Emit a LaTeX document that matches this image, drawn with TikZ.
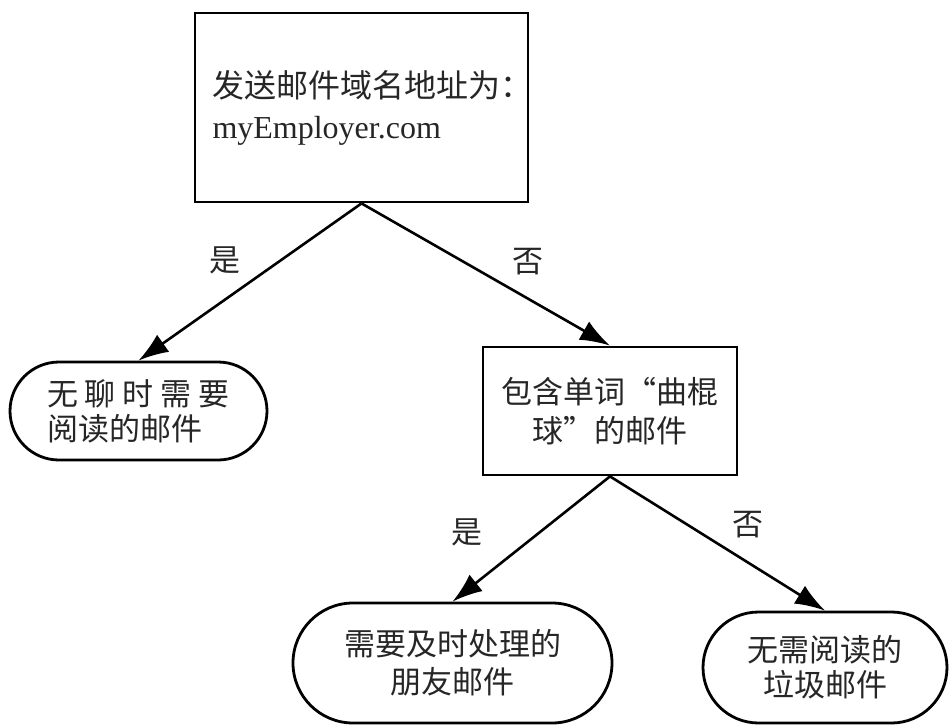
\documentclass[tikz,border=0pt]{standalone}
\usepackage{fontspec}
\setmainfont{Liberation Serif}
\newfontfamily\cjk{Noto Sans CJK SC}
\usetikzlibrary{arrows.meta,shapes.misc}

\tikzset{
  test/.style={draw, line width=2.8pt, rectangle, inner sep=0pt},
  leaf/.style={draw, line width=2.8pt, rounded rectangle, inner sep=0pt, align=center},
  branch/.style={line width=2.6pt, -{Latex[length=30pt,width=21pt]}},
  answer/.style={font=\cjk\fontsize{31}{35}\selectfont},
}

\begin{document}
\begin{tikzpicture}[x=1pt,y=-1pt,every node/.style={text=black!85}]
\useasboundingbox (0,0) rectangle (950,726);

%tests
\node[test, minimum width=333pt, minimum height=189pt, align=left,
  font=\fontsize{32}{41}\selectfont] (domain) at (361.5,107.5)
  {\makebox[298pt][l]{\cjk 发送邮件域名地址为：}\\myEmployer.com};
\node[test, minimum width=254pt, minimum height=128pt, align=center,
  font=\cjk\fontsize{31}{39}\selectfont] (hockey) at (610,411)
  {包含单词“曲棍\\球”的邮件};

%leaves
\node[leaf, minimum width=257pt, minimum height=98pt, align=left,
  font=\cjk\fontsize{31}{35}\selectfont] (bored) at (138.5,411)
  {无\kern7pt 聊\kern7pt 时\kern7pt 需\kern7pt 要\\阅读的邮件};
\node[leaf, minimum width=319pt, minimum height=120pt,
  font=\cjk\fontsize{31}{38}\selectfont] (friend) at (452.5,663)
  {需要及时处理的\\朋友邮件};
\node[leaf, minimum width=244pt, minimum height=111pt,
  font=\cjk\fontsize{31}{35}\selectfont] (spam) at (825,667.5)
  {无需阅读的\\垃圾邮件};

%branches
\draw[branch] (domain.south) -- (bored.north);
\draw[branch] (domain.south) -- (hockey.north);
\draw[branch] (hockey.south) -- (friend.north);
\draw[branch] (hockey.south) -- (spam.north);

%answers
\node[answer] (yes1) at (225,260) {是};
\node[answer] (no1) at (528,262) {否};
\node[answer] (yes2) at (467,532) {是};
\node[answer] (no2) at (748,525) {否};
\end{tikzpicture}
\end{document}
